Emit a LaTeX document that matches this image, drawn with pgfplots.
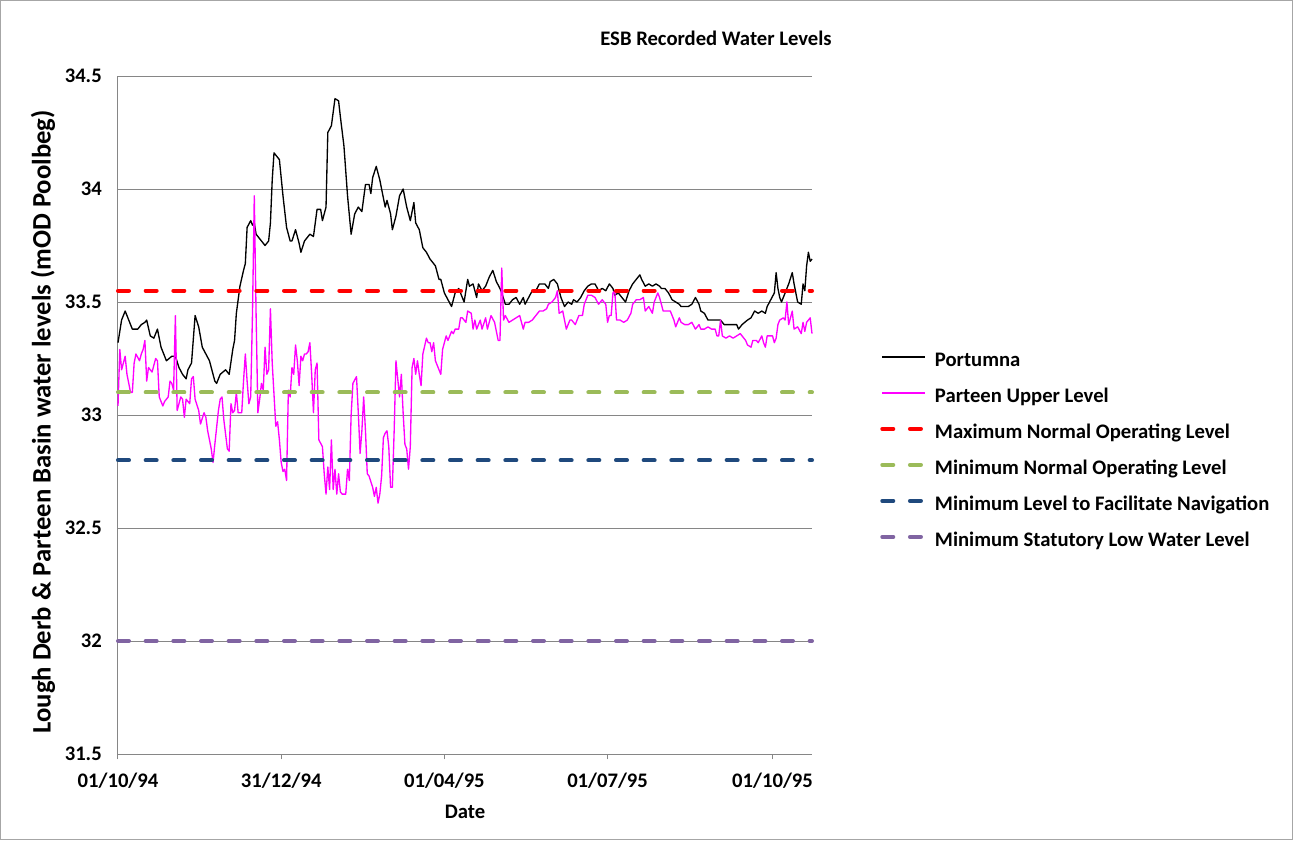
\documentclass[border=0pt]{standalone}
\usepackage{fontspec}
\setmainfont{Carlito}
\usepackage{pgfplots}
\pgfplotsset{compat=1.18}
\usepackage{pgfplotstable}
\usetikzlibrary{calc}

\definecolor{gridgray}{HTML}{868686}
\definecolor{framegray}{HTML}{A6A6A6}
\definecolor{maxred}{HTML}{FF0000}
\definecolor{minngreen}{HTML}{9BBB59}
\definecolor{navblue}{HTML}{1F497D}
\definecolor{statpurple}{HTML}{8064A2}
\definecolor{parteen}{HTML}{FF00FF}

\pgfplotstableread{
day level
0 33.32
2 33.42
4 33.46
8 33.38
11 33.38
13 33.40
15 33.41
16 33.42
18 33.35
20 33.34
22 33.38
24 33.30
27 33.24
30 33.26
32 33.26
34 33.21
36 33.18
38 33.16
39 33.20
41 33.23
43 33.44
45 33.39
47 33.30
49 33.27
51 33.24
54 33.15
55 33.14
57 33.18
60 33.20
62 33.18
64 33.29
65 33.33
66 33.45
68 33.57
70 33.64
71 33.67
72 33.83
74 33.86
75 33.84
76 33.85
77 33.80
80 33.77
82 33.75
84 33.77
85 33.85
86 34.04
87 34.16
89 34.14
90 34.13
92 33.97
94 33.83
96 33.77
97 33.77
99 33.82
101 33.76
102 33.72
104 33.77
106 33.79
107 33.80
109 33.79
111 33.91
113 33.91
114 33.86
116 33.92
117 34.25
119 34.28
121 34.40
123 34.39
124 34.32
126 34.19
128 33.97
130 33.80
132 33.89
134 33.92
136 33.90
138 34.02
140 34.02
141 33.98
142 34.05
144 34.10
146 34.04
147 34.00
149 33.92
150 33.95
152 33.89
153 33.82
155 33.88
157 33.97
159 34.00
161 33.92
163 33.86
165 33.94
166 33.85
168 33.82
170 33.74
172 33.72
174 33.69
177 33.66
179 33.60
180 33.60
182 33.54
184 33.51
186 33.48
188 33.54
190 33.56
192 33.52
193 33.50
195 33.60
196 33.57
198 33.58
200 33.52
201 33.58
203 33.55
205 33.57
207 33.61
209 33.64
211 33.59
213 33.56
214 33.54
216 33.49
218 33.49
220 33.51
222 33.52
224 33.49
226 33.52
227 33.49
229 33.52
231 33.55
233 33.55
235 33.58
238 33.58
240 33.56
241 33.59
243 33.60
245 33.58
247 33.52
249 33.48
251 33.50
253 33.49
254 33.51
256 33.50
258 33.52
260 33.55
262 33.57
264 33.58
266 33.58
268 33.55
270 33.56
272 33.55
274 33.58
276 33.56
277 33.53
279 33.54
281 33.52
283 33.50
285 33.55
287 33.58
288 33.59
291 33.62
292 33.60
294 33.57
296 33.58
298 33.57
300 33.58
302 33.57
303 33.56
305 33.56
307 33.54
309 33.51
311 33.50
313 33.49
314 33.48
318 33.48
320 33.49
322 33.52
324 33.49
325 33.46
327 33.45
329 33.42
332 33.42
334 33.42
336 33.42
338 33.40
342 33.40
345 33.40
346 33.38
348 33.40
351 33.42
353 33.43
355 33.46
357 33.45
359 33.46
361 33.45
362 33.48
364 33.51
366 33.54
367 33.63
368 33.56
369 33.52
370 33.50
372 33.54
374 33.58
376 33.63
377 33.58
379 33.50
381 33.49
382 33.58
383 33.55
384 33.66
385 33.72
386 33.68
387 33.69
}\portumna

\pgfplotstableread{
day level
0 33.04
1 33.29
2 33.20
4 33.26
5 33.18
7 33.10
8 33.10
9 33.23
10 33.27
12 33.24
13 33.27
14 33.29
15 33.33
16 33.15
17 33.21
19 33.19
21 33.25
22 33.24
23 33.08
25 33.04
26 33.06
28 33.08
29 33.15
30 33.14
31 33.11
32 33.44
33 33.02
35 33.08
36 33.07
37 32.99
38 33.07
40 33.05
41 33.16
42 33.17
43 33.07
45 33.02
46 32.96
48 33.01
49 32.99
50 32.93
52 32.85
53 32.79
54 32.87
56 33.02
57 33.07
58 33.08
59 32.98
61 32.85
62 32.84
63 33.05
64 33.01
65 33.02
66 33.10
67 33.01
69 33.01
70 33.15
71 33.27
72 33.15
73 33.05
74 33.08
75 33.45
76 33.97
77 33.45
78 33.01
79 33.07
80 33.14
81 33.11
82 33.30
83 33.18
84 33.20
85 33.47
86 33.23
88 32.95
89 32.97
90 32.89
91 32.79
92 32.75
93 32.76
94 32.71
95 33.11
96 33.08
97 33.21
98 33.18
99 33.31
100 33.24
101 33.13
102 33.26
103 33.24
104 33.27
105 33.27
106 33.28
107 33.32
108 33.18
109 33.01
110 33.20
111 33.23
112 32.89
114 32.86
115 32.74
116 32.65
117 32.77
118 32.67
119 32.89
120 32.67
121 32.76
122 32.65
123 32.74
124 32.66
125 32.65
127 32.65
128 32.76
129 32.71
130 33.00
131 33.14
133 33.17
134 33.01
135 32.83
136 32.93
137 33.08
138 32.93
139 32.74
140 32.73
142 32.68
143 32.64
144 32.68
145 32.61
146 32.65
147 32.73
148 32.90
149 32.92
150 32.93
151 32.86
152 32.68
153 32.68
154 32.93
155 33.24
157 33.08
158 33.18
159 33.01
160 32.87
161 32.85
162 32.76
163 32.86
164 33.21
165 33.25
166 33.18
167 33.24
168 33.18
169 33.13
170 33.27
172 33.34
173 33.32
174 33.32
175 33.28
176 33.32
177 33.24
179 33.20
180 33.18
181 33.29
183 33.35
184 33.33
186 33.37
187 33.36
188 33.38
190 33.38
191 33.43
192 33.43
194 33.41
195 33.46
197 33.45
198 33.38
199 33.42
200 33.38
202 33.42
203 33.38
205 33.43
206 33.38
208 33.44
210 33.41
211 33.37
212 33.33
213 33.33
214 33.65
215 33.42
216 33.44
218 33.41
220 33.42
222 33.43
224 33.44
226 33.38
227 33.41
229 33.41
231 33.42
233 33.44
235 33.46
237 33.46
239 33.47
240 33.49
242 33.50
244 33.52
245 33.55
246 33.45
248 33.46
250 33.38
252 33.42
253 33.42
255 33.40
257 33.44
259 33.44
260 33.49
262 33.53
264 33.53
266 33.52
268 33.49
270 33.51
272 33.49
273 33.41
274 33.44
275 33.44
276 33.54
277 33.55
278 33.42
280 33.42
282 33.41
284 33.42
286 33.45
287 33.49
289 33.51
291 33.51
293 33.52
294 33.46
296 33.48
298 33.45
299 33.50
301 33.54
302 33.52
304 33.46
306 33.46
308 33.46
310 33.42
311 33.39
313 33.43
314 33.41
316 33.40
318 33.40
320 33.41
322 33.38
324 33.40
325 33.38
327 33.38
329 33.39
331 33.38
333 33.38
334 33.35
335 33.35
336 33.42
337 33.35
339 33.34
341 33.35
343 33.34
345 33.35
347 33.36
348 33.35
350 33.33
351 33.31
353 33.30
354 33.33
356 33.33
357 33.32
359 33.35
360 33.32
361 33.30
362 33.35
364 33.35
365 33.35
366 33.32
367 33.34
368 33.40
369 33.42
371 33.43
372 33.42
373 33.50
374 33.40
376 33.46
377 33.38
379 33.39
381 33.36
382 33.41
383 33.37
384 33.41
386 33.43
387 33.36
}\parteen

\newcommand{\chartfont}{\fontsize{15.5pt}{18pt}\selectfont\bfseries}

\begin{document}
\begin{tikzpicture}
\begin{axis}[
  scale only axis,
  width=520.5pt, height=508.5pt,
  xmin=0, xmax=387, ymin=31.5, ymax=34.5,
  xtick={0,91,182,273,365},
  xticklabels={01/10/94,31/12/94,01/04/95,01/07/95,01/10/95},
  ytick={31.5,32,32.5,33,33.5,34,34.5},
  yticklabels={31.5,32,32.5,33,33.5,34,34.5},
  axis lines*=left,
  axis line style={gridgray, line width=0.75pt},
  ymajorgrids,
  grid style={gridgray, line width=0.75pt},
  tick align=outside,
  major tick length=4pt,
  tick style={gridgray, line width=0.75pt},
  ytick style={draw=none},
  tick label style={font=\chartfont},
  xticklabel style={inner sep=0pt, yshift=-10pt},
  yticklabel style={inner sep=0pt, xshift=-8pt},
  xlabel={Date},
  ylabel={Lough Derb \& Parteen Basin water levels (mOD Poolbeg)},
  xlabel style={font=\chartfont, at={(axis description cs:0.5,-0.085)}, anchor=center},
  ylabel style={font=\fontsize{20pt}{24pt}\selectfont\bfseries, at={(axis description cs:-0.108,0.49)}, anchor=center},
  clip=false,
  legend style={
    at={(1.098,0.593)}, anchor=north west,
    draw=none, fill=none, inner sep=0pt,
    row sep=13pt, column sep=6pt,
    font=\chartfont,
    nodes={inner sep=0pt, text height=11pt, text depth=3pt},
  },
  legend cell align=left,
  legend image code/.code={\draw[#1] (0pt,3.5pt) -- (32pt,3.5pt);},
]
\coordinate (ax0) at (rel axis cs:0,0);
\addplot[black, line width=1pt, line join=round] table[x=day, y=level] {\portumna};
\addlegendentry{Portumna}
\addplot[parteen, line width=1pt, line join=round] table[x=day, y=level] {\parteen};
\addlegendentry{Parteen Upper Level}
\addplot[maxred, line width=3pt, line cap=round, dash pattern=on 8.25pt off 12.5pt] coordinates {(0,33.55) (387,33.55)};
\addlegendentry{Maximum Normal Operating Level}
\addplot[minngreen, line width=3pt, line cap=round, dash pattern=on 8.25pt off 12.5pt] coordinates {(0,33.10) (387,33.10)};
\addlegendentry{Minimum Normal Operating Level}
\addplot[navblue, line width=3pt, line cap=round, dash pattern=on 8.25pt off 12.5pt] coordinates {(0,32.80) (387,32.80)};
\addlegendentry{Minimum Level to Facilitate Navigation}
\addplot[statpurple, line width=3pt, line cap=round, dash pattern=on 8.25pt off 12.5pt] coordinates {(0,32.00) (387,32.00)};
\addlegendentry{Minimum Statutory Low Water Level}
\end{axis}
\node[font=\chartfont] at ($(ax0)+(448.5pt,537pt)$) {ESB Recorded Water Levels};
\draw[framegray, line width=0.75pt] ($(ax0)+(-87.75pt,-63.75pt)$) rectangle ($(ax0)+(880.5pt,564.75pt)$);
\pgfresetboundingbox
\useasboundingbox ($(ax0)+(-88.5pt,-64.5pt)$) rectangle ($(ax0)+(881.25pt,565.5pt)$);
\end{tikzpicture}
\end{document}
